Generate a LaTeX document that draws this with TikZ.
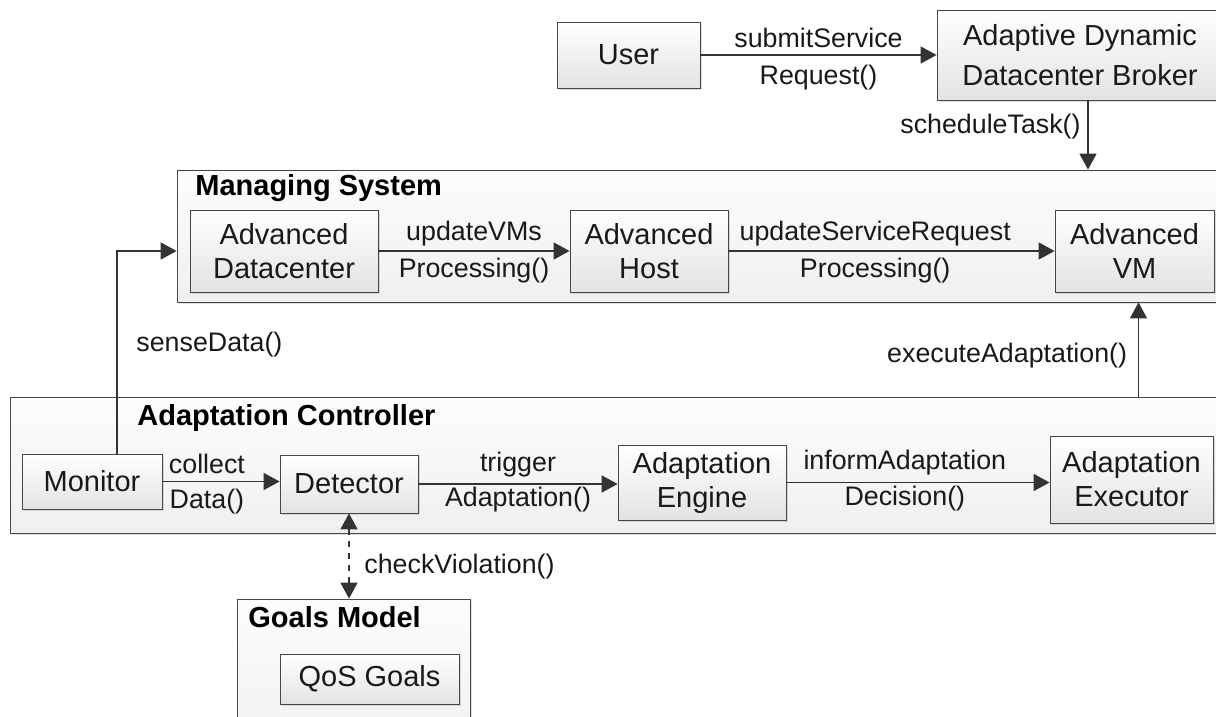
\documentclass[tikz,border=0pt]{standalone}
\usepackage{fontspec}
\setmainfont{Liberation Sans}
\usetikzlibrary{arrows.meta,shadows}

\begin{document}
\begin{tikzpicture}[x=0.5pt,y=-0.5pt,
  box/.style={draw=gray!55!black, thin, top color=white, bottom color=gray!22,
    drop shadow={shadow xshift=0.8pt, shadow yshift=-0.8pt, opacity=0.25},
    align=center, inner sep=0pt, text=black!90,
    font=\fontsize{14.5}{17}\selectfont},
  container/.style={draw=gray!55!black, thin, top color=gray!2, bottom color=gray!12,
    drop shadow={shadow xshift=0.8pt, shadow yshift=-0.8pt, opacity=0.25}, inner sep=0pt},
  title/.style={anchor=west, inner sep=0pt, font=\fontsize{14.5}{16.5}\selectfont\bfseries},
  lbl/.style={font=\fontsize{13.4}{15}\selectfont, text=black!90},
  arr/.style={draw=black!80, line width=0.75pt, -{Triangle[length=8pt,width=8.5pt]}}]

\useasboundingbox (0,0) rectangle (1216,717);

% containers
\node[container, minimum width=524pt, minimum height=66pt] (ManagingSys) at (701,236) {};
\node[container, minimum width=607.5pt, minimum height=68pt] (Controller) at (617.5,465) {};
\node[container, minimum width=116.5pt, minimum height=80.5pt] (GoalsModel) at (353.5,679.5) {};

\node[title] at (195,188) {Managing System};
\node[title] at (137,418) {Adaptation Controller};
\node[title] at (248,617) {Goals Model};

% boxes
\node[box, minimum width=71.5pt, minimum height=33pt] (User) at (628.5,55) {User};
\node[box, minimum width=143pt, minimum height=45pt] (Broker) at (1080,55) {Adaptive Dynamic\\[3pt]Datacenter Broker};

\node[box, minimum width=94pt, minimum height=41pt] (AdvDatacenter) at (284,251) {Advanced\\Datacenter};
\node[box, minimum width=79pt, minimum height=41pt] (AdvHost) at (649,251) {Advanced\\Host};
\node[box, minimum width=79.5pt, minimum height=41pt] (AdvVM) at (1134.5,251) {Advanced\\VM};

\node[box, minimum width=70pt, minimum height=27.5pt] (Monitor) at (92,481.5) {Monitor};
\node[box, minimum width=69pt, minimum height=29pt] (Detector) at (349,484) {Detector};
\node[box, minimum width=84pt, minimum height=37.5pt] (Engine) at (702,482.5) {Adaptation\\Engine};
\node[box, minimum width=81.5pt, minimum height=43.5pt] (Executor) at (1131.5,479.5) {Adaptation\\Executor};

\node[box, minimum width=89.5pt, minimum height=25pt] (QosGoals) at (369.5,679) {QoS Goals};

% connectors
\draw[arr] (User) -- (User -| Broker.west)
  node[lbl, midway, above] {submitService} node[lbl, midway, below, yshift=-1.5pt] {Request()};
\draw[arr] ([xshift=4pt]Broker.south) -- ([xshift=4pt]Broker.south |- ManagingSys.north)
  node[lbl, pos=0.38, left] {scheduleTask()};

\draw[arr] (AdvDatacenter) -- (AdvHost)
  node[lbl, midway, above, yshift=-1pt] {updateVMs} node[lbl, midway, below] {Processing()};
\draw[arr] (AdvHost) -- (AdvVM)
  node[lbl, pos=0.45, above, yshift=-1pt] {updateServiceRequest} node[lbl, pos=0.45, below] {Processing()};

\draw[arr] ([xshift=12.5pt]Monitor.north) |- (ManagingSys.west |- AdvDatacenter)
  node[lbl, pos=0.27, right=6pt] {senseData()};
\draw[arr] ([xshift=2pt]AdvVM.south |- Controller.north) -- ([xshift=2pt]AdvVM.south |- ManagingSys.south)
  node[lbl, pos=0.44, left=2pt] {executeAdaptation()};

\draw[arr] (Monitor) -- (Monitor -| Detector.west)
  node[lbl, pos=0.38, above] {collect} node[lbl, pos=0.38, below] {Data()};
\draw[arr] (Detector) -- (Detector -| Engine.west)
  node[lbl, midway, above] {trigger} node[lbl, midway, below, yshift=2pt] {Adaptation()};
\draw[arr] (Engine) -- (Engine -| Executor.west)
  node[lbl, pos=0.45, above] {informAdaptation} node[lbl, pos=0.45, below, yshift=2pt] {Decision()};

\draw[arr, dashed, {Triangle[length=8pt,width=8.5pt]}-{Triangle[length=8pt,width=8.5pt]}]
  (Detector.south) -- (Detector.south |- GoalsModel.north)
  node[lbl, pos=0.62, right=4pt] {checkViolation()};

\end{tikzpicture}
\end{document}
